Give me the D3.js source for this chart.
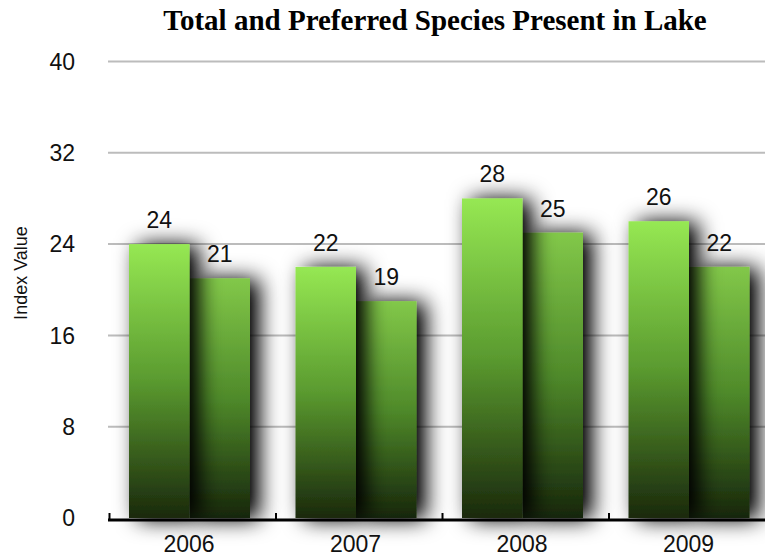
<!DOCTYPE html>
<html>
<head>
<meta charset="utf-8">
<script src="https://cdn.jsdelivr.net/npm/d3@7/dist/d3.min.js"></script>
<style>
  html, body { margin: 0; padding: 0; background: #fff; }
  svg { display: block; }
</style>
</head>
<body>
<svg id="chart" width="765" height="556"></svg>
<script>
// Species counts per survey year
const years = ["2006", "2007", "2008", "2009"];
const totalSpecies = [24, 22, 28, 26];
const preferredSpecies = [21, 19, 25, 22];
const seriesKeys = ["total", "preferred"];
const yTicks = [0, 8, 16, 24, 32, 40];
const chartTitle = "Total and Preferred Species Present in Lake";
const yTitle = "Index Value";

const W = 765, H = 556;
const svg = d3.select("#chart");

const x0 = d3.scaleBand().domain(years).range([109, 775]).paddingInner(0).paddingOuter(0);
const x1 = d3.scaleBand().domain(seriesKeys).range([20, 141]).padding(0);
const y = d3.scaleLinear().domain([0, 40]).range([518, 61.5]);

const defs = svg.append("defs");

// Vertical fades for each series
const grads = {
  total: [["0%", "#96e853"], ["50%", "#5a9a2f"], ["100%", "#1a290c"]],
  preferred: [["0%", "#82c849"], ["50%", "#4f8a2a"], ["100%", "#17260b"]]
};
Object.entries(grads).forEach(([key, stops]) => {
  const g = defs.append("linearGradient")
    .attr("id", "grad-" + key)
    .attr("x1", 0).attr("y1", 0).attr("x2", 0).attr("y2", 1);
  stops.forEach(([o, c]) => g.append("stop").attr("offset", o).attr("stop-color", c));
});

// Soft drop shadow behind bars
const f = defs.append("filter").attr("id", "shadow")
  .attr("filterUnits", "userSpaceOnUse")
  .attr("x", 0).attr("y", 0).attr("width", W).attr("height", H);
f.append("feGaussianBlur").attr("in", "SourceAlpha").attr("stdDeviation", 11).attr("result", "blur");
f.append("feOffset").attr("in", "blur").attr("dx", 9).attr("dy", 1).attr("result", "off");
f.append("feComponentTransfer").attr("in", "off").attr("result", "shade")
  .append("feFuncA").attr("type", "linear").attr("slope", 1.1);
const merge = f.append("feMerge");
merge.append("feMergeNode").attr("in", "shade");
merge.append("feMergeNode").attr("in", "SourceGraphic");

// Title
svg.append("text")
  .attr("x", 435).attr("y", 30)
  .attr("text-anchor", "middle")
  .style("font-family", "'Liberation Serif', 'Times New Roman', serif")
  .style("font-weight", "bold")
  .style("font-size", "29px")
  .attr("fill", "#000")
  .text(chartTitle);

// Horizontal gridlines
svg.append("g").selectAll("line")
  .data(yTicks.filter(t => t > 0))
  .join("line")
  .attr("x1", 108).attr("x2", W)
  .attr("y1", d => y(d)).attr("y2", d => y(d))
  .attr("stroke", "#bcbcbc")
  .attr("stroke-width", 2);

// Y tick labels
svg.append("g").selectAll("text")
  .data(yTicks)
  .join("text")
  .attr("x", 75).attr("y", d => y(d))
  .attr("dy", "0.36em")
  .attr("text-anchor", "end")
  .style("font-family", "'Liberation Sans', Arial, sans-serif")
  .style("font-size", "23px")
  .attr("fill", "#111")
  .text(d => d);

// Y axis title
svg.append("text")
  .attr("transform", "translate(27,273) rotate(-90)")
  .attr("text-anchor", "middle")
  .style("font-family", "'Liberation Sans', Arial, sans-serif")
  .style("font-size", "18px")
  .attr("fill", "#111")
  .text(yTitle);

// Bars: preferred first so the total bar's shadow falls across it
const rows = years.map((yr, i) => ({ year: yr, total: totalSpecies[i], preferred: preferredSpecies[i] }));
const barLayer = svg.append("g");
["preferred", "total"].forEach(key => {
  barLayer.append("g").selectAll("rect")
    .data(rows)
    .join("rect")
    .attr("x", d => x0(d.year) + x1(key))
    .attr("width", x1.bandwidth())
    .attr("y", d => y(d[key]))
    .attr("height", d => y(0) - y(d[key]))
    .attr("fill", "url(#grad-" + key + ")")
    .attr("filter", "url(#shadow)");
});

// Baseline axis
svg.append("line")
  .attr("x1", 108).attr("x2", W)
  .attr("y1", 520).attr("y2", 520)
  .attr("stroke", "#000").attr("stroke-width", 3);

// Category boundary ticks pointing up
svg.append("g").selectAll("line")
  .data(years)
  .join("line")
  .attr("x1", d => x0(d) + 0.5).attr("x2", d => x0(d) + 0.5)
  .attr("y1", 520).attr("y2", 513)
  .attr("stroke", "#000").attr("stroke-width", 2);

// Category labels
svg.append("g").selectAll("text")
  .data(years)
  .join("text")
  .attr("x", d => x0(d) + 80)
  .attr("y", 552)
  .attr("text-anchor", "middle")
  .style("font-family", "'Liberation Sans', Arial, sans-serif")
  .style("font-size", "23px")
  .attr("fill", "#111")
  .text(d => d);

// Value labels above bars
seriesKeys.forEach(key => {
  svg.append("g").selectAll("text")
    .data(rows)
    .join("text")
    .attr("x", d => x0(d.year) + x1(key) + x1.bandwidth() / 2)
    .attr("y", d => y(d[key]) - 16)
    .attr("text-anchor", "middle")
    .style("font-family", "'Liberation Sans', Arial, sans-serif")
    .style("font-size", "23px")
    .attr("fill", "#111")
    .text(d => d[key]);
});
</script>
</body>
</html>
